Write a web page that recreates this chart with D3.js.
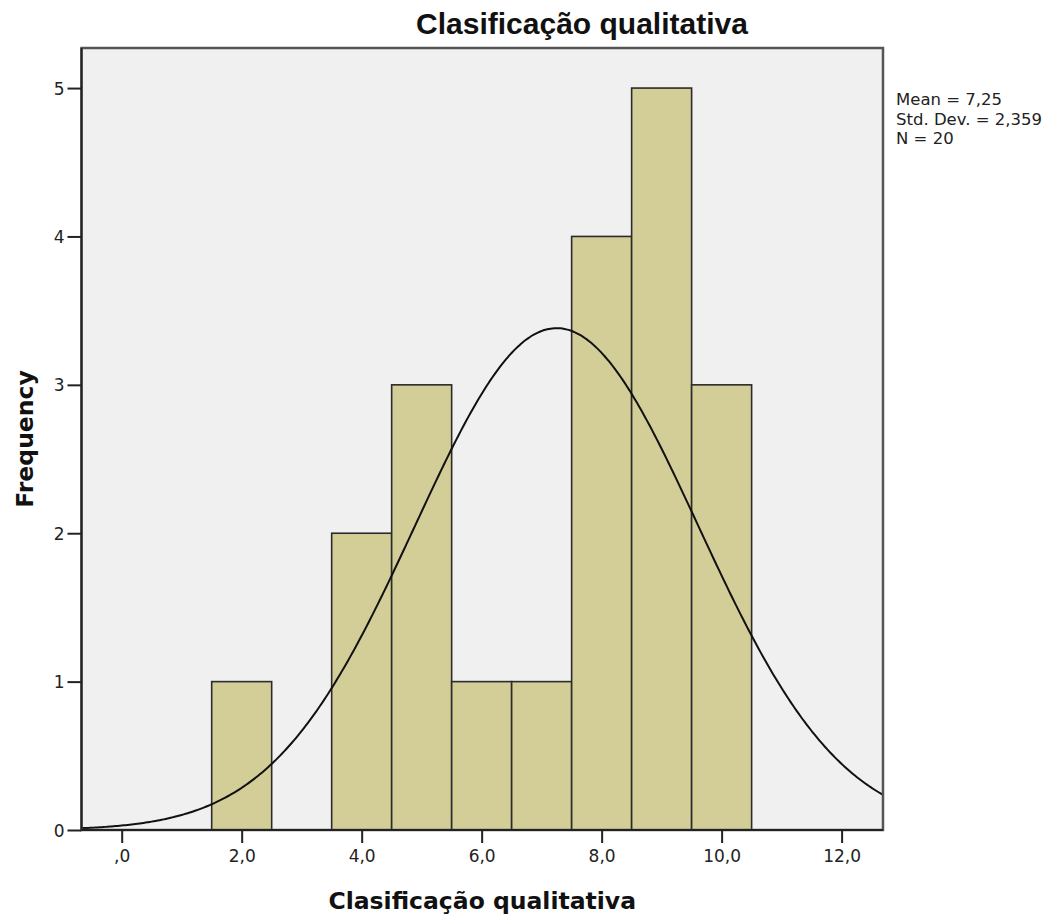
<!DOCTYPE html>
<html>
<head>
<meta charset="utf-8">
<script src="https://cdn.jsdelivr.net/npm/d3@7"></script>
<style>
  html, body { margin: 0; padding: 0; background: #fff; }
  svg { display: block; }
</style>
</head>
<body>
<svg id="chart" width="1062" height="920"></svg>
<script>
// Histogram bins (width 1) and their frequencies
const binCenters = [2, 4, 5, 6, 7, 8, 9, 10];
const binCounts  = [1, 2, 3, 1, 1, 4, 5, 3];
const binWidth = 1;

// Axis ticks
const xTicks = [0, 2, 4, 6, 8, 10, 12];
const yTicks = [0, 1, 2, 3, 4, 5];

const titleText = "Clasificação qualitativa";
const xLabel = "Clasificação qualitativa";
const yLabel = "Frequency";

// Summary statistics from the binned values
const n = d3.sum(binCounts);
const mean = d3.sum(binCenters, (c, i) => c * binCounts[i]) / n;
const sd = Math.sqrt(d3.sum(binCenters, (c, i) => binCounts[i] * (c - mean) ** 2) / (n - 1));

const comma = s => s.replace(".", ",");
const statLines = [
  "Mean = " + comma(d3.format(".2f")(mean)),
  "Std. Dev. = " + comma(d3.format(".3f")(sd)),
  "N = " + n
];

const svg = d3.select("#chart");
const plot = { left: 81.5, right: 883, top: 48, bottom: 830 };

const x = d3.scaleLinear().domain([-0.67, 12.69]).range([plot.left, plot.right]);
const y = d3.scaleLinear().domain([0, 5.27]).range([plot.bottom, plot.top]);

// plot background
svg.append("rect")
  .attr("x", plot.left).attr("y", plot.top)
  .attr("width", plot.right - plot.left).attr("height", plot.bottom - plot.top)
  .attr("fill", "#f0f0f0");

// bars
svg.append("g").selectAll("rect")
  .data(binCenters)
  .join("rect")
  .attr("x", d => x(d - binWidth / 2))
  .attr("y", (d, i) => y(binCounts[i]))
  .attr("width", d => x(d + binWidth / 2) - x(d - binWidth / 2))
  .attr("height", (d, i) => y(0) - y(binCounts[i]))
  .attr("fill", "#d3ce97")
  .attr("stroke", "#2b2b2b")
  .attr("stroke-width", 1.6);

// fitted normal curve, scaled to counts
const pdf = v => n * binWidth / (sd * Math.sqrt(2 * Math.PI)) * Math.exp(-0.5 * ((v - mean) / sd) ** 2);
const [x0, x1] = x.domain();
const curvePts = d3.range(0, 401).map(k => x0 + (x1 - x0) * k / 400);
svg.append("path")
  .datum(curvePts)
  .attr("d", d3.line().x(v => x(v)).y(v => y(pdf(v))).curve(d3.curveBasis))
  .attr("fill", "none")
  .attr("stroke", "#111")
  .attr("stroke-width", 2);

// frame
svg.append("rect")
  .attr("x", plot.left).attr("y", plot.top)
  .attr("width", plot.right - plot.left).attr("height", plot.bottom - plot.top)
  .attr("fill", "none")
  .attr("stroke", "#555")
  .attr("stroke-width", 2.5);

// axes
const xAxis = d3.axisBottom(x).tickValues(xTicks).tickSize(13).tickPadding(7)
  .tickFormat(v => comma(d3.format(".1f")(v)).replace(/^0,/, ","));
const gx = svg.append("g").attr("transform", `translate(0,${plot.bottom})`).call(xAxis);

const yAxis = d3.axisLeft(y).tickValues(yTicks).tickSize(14).tickPadding(3).tickFormat(d3.format("d"));
const gy = svg.append("g").attr("transform", `translate(${plot.left},0)`).call(yAxis);

[gx, gy].forEach(g => {
  g.select(".domain").attr("stroke", "#222").attr("stroke-width", 2);
  g.selectAll(".tick line").attr("stroke", "#222").attr("stroke-width", 2);
  g.selectAll(".tick text")
    .attr("fill", "#222")
    .style("font-family", "'DejaVu Sans', sans-serif")
    .style("font-size", "17px");
});
gx.select(".domain").attr("d", `M${plot.left},0H${plot.right}`);
gy.select(".domain").attr("d", `M0,${plot.bottom}V${plot.top}`);
gy.selectAll(".tick text").attr("dy", "0.36em");

// title
svg.append("text")
  .attr("x", 582).attr("y", 34)
  .attr("text-anchor", "middle")
  .style("font-family", "'Liberation Sans', Arial, sans-serif")
  .style("font-weight", "bold")
  .style("font-size", "30px")
  .attr("fill", "#111")
  .text(titleText);

// x axis title
svg.append("text")
  .attr("x", (plot.left + plot.right) / 2).attr("y", 909)
  .attr("text-anchor", "middle")
  .style("font-family", "'DejaVu Sans', sans-serif")
  .style("font-weight", "bold")
  .style("font-size", "23.5px")
  .attr("fill", "#111")
  .text(xLabel);

// y axis title
svg.append("text")
  .attr("transform", `translate(33,439) rotate(-90)`)
  .attr("text-anchor", "middle")
  .style("font-family", "'DejaVu Sans', sans-serif")
  .style("font-weight", "bold")
  .style("font-size", "23.5px")
  .attr("fill", "#111")
  .text(yLabel);

// statistics block
svg.append("g").selectAll("text")
  .data(statLines)
  .join("text")
  .attr("x", 896)
  .attr("y", (d, i) => 105 + i * 19.5)
  .style("font-family", "'DejaVu Sans', sans-serif")
  .style("font-size", "16.5px")
  .attr("fill", "#222")
  .text(d => d);
</script>
</body>
</html>
